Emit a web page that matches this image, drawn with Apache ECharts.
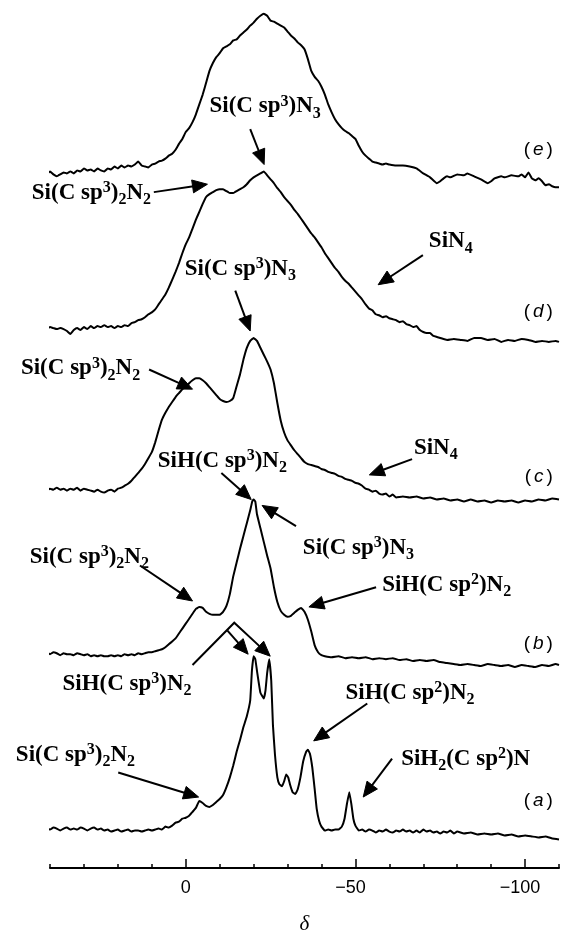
<!DOCTYPE html>
<html>
<head>
<meta charset="utf-8">
<script src="https://cdn.jsdelivr.net/npm/echarts@6/dist/echarts.min.js"></script>
<style>
  html, body { margin: 0; padding: 0; background: #fff; }
  #chart { width: 562px; height: 940px; }
</style>
</head>
<body>
<div id="chart"></div>
<script>
// Chemical shift axis: labelled (major) ticks
const tickLabels = [0, -50, -100];

// Spectrum names, bottom to top
const traceNames = ['a', 'b', 'c', 'd', 'e'];

// Vertical offset of each spectrum's baseline (a..e)
const baseLevels = [40, 218, 384, 548, 705];

// Spectra as [δ, intensity above own baseline]
const specA = [[41,1],[40,-1],[39,1],[38,0],[37,-2],[36,0],[35,1],[34,-1],[33,0],[32,-1],[31,1],[30,0],[29,-2],[28,0],[27,1],[26,-1],[25,0],[24,-2],[23,-1],[22,-3],[21,-2],[20,-1],[19,-3],[18,-2],[17,-1],[16,-3],[15,-2],[14,-2],[13,-3],[12,-2],[11,-1],[10,-2],[9,-1],[8,0],[7,-1],[6,2],[5,1],[4,3],[3,6],[2,7],[1,10],[0,11],[-1,13],[-2,17],[-3,21],[-4,28],[-5,26],[-6,23],[-7,22],[-8,24],[-9,27],[-10,30],[-11,34],[-12,42],[-13,52],[-14,64],[-15,78],[-16,90],[-17,103],[-18,114],[-19,130],[-19.5,160],[-20,175],[-20.5,172],[-21,160],[-22,138],[-23,132],[-23.5,140],[-24,158],[-24.6,172],[-25.2,150],[-25.7,105],[-26.3,75],[-27,52],[-27.6,45],[-28.4,43],[-29,48],[-29.6,55],[-30.2,52],[-30.8,44],[-31.5,37],[-32.3,35],[-33,40],[-33.8,52],[-34.6,68],[-35.5,78],[-36,80],[-36.6,76],[-37.3,62],[-38,40],[-38.6,20],[-39.3,8],[-40,2],[-41,-2],[-42,-1],[-43,-2],[-44,-1],[-45,-1],[-46,2],[-46.8,10],[-47.5,25],[-48.2,37],[-48.8,25],[-49.4,10],[-50,3],[-51,-2],[-52,-1],[-53,-3],[-54,-1],[-55,-2],[-56,-4],[-57,-2],[-58,-3],[-59,-1],[-60,-3],[-61,-4],[-62,-2],[-63,-3],[-64,-1],[-65,-3],[-66,-2],[-67,-4],[-68,-2],[-69,-4],[-70,-1],[-71,-3],[-72,-2],[-73,-4],[-74,-3],[-75,-5],[-76,-3],[-77,-4],[-78,-2],[-79,-5],[-80,-3],[-82,-5],[-84,-4],[-86,-6],[-88,-5],[-90,-6],[-92,-5],[-94,-7],[-96,-6],[-98,-8],[-100,-7],[-102,-8],[-104,-9],[-106,-8],[-108,-10],[-110,-11]];

const specB = [[41,1],[40,-1],[39,1],[38,0],[37,-2],[36,0],[35,-1],[34,-1],[33,-2],[32,0],[31,-1],[30,-2],[29,-1],[28,-3],[27,-2],[26,-3],[25,-2],[24,-3],[23,-3],[22,-2],[21,-3],[20,-2],[19,-3],[18,-1],[17,-2],[16,-1],[15,-2],[14,0],[13,-1],[12,0],[11,1],[10,1],[9,2],[8,3],[7,4],[6,6],[5,9],[4,12],[3,15],[2,20],[1,25],[0,30],[-1,35],[-2,40],[-3,45],[-4,47],[-5,46],[-6,42],[-7,40],[-8,39],[-9,39],[-10,39],[-11,42],[-12,48],[-13,60],[-14,78],[-15,92],[-16,106],[-17,119],[-18,132],[-19,145],[-19.6,154],[-20,156],[-20.5,154],[-21,141],[-22,127],[-23,113],[-24,99],[-25,86],[-26,67],[-27,52],[-28,43],[-29,39],[-30,37],[-31,38],[-32,41],[-33,44],[-34,46],[-35,42],[-36,34],[-37,22],[-38,8],[-39,1],[-40,-2],[-41,-3],[-43,-4],[-45,-3],[-47,-5],[-49,-4],[-51,-5],[-53,-4],[-55,-6],[-57,-5],[-59,-6],[-61,-5],[-63,-7],[-65,-6],[-67,-8],[-69,-7],[-71,-8],[-73,-7],[-75,-9],[-77,-10],[-79,-11],[-81,-12],[-83,-11],[-85,-12],[-87,-13],[-89,-11],[-91,-12],[-93,-13],[-95,-12],[-97,-14],[-99,-12],[-101,-13],[-103,-14],[-105,-12],[-107,-13],[-109,-11],[-110,-12]];

const specC = [[41,-1],[40,1],[39,0],[38,2],[37,0],[36,1],[35,-1],[34,1],[33,0],[32,2],[31,-1],[30,1],[29,0],[28,-1],[27,-2],[26,0],[25,-2],[24,-3],[23,-1],[22,0],[21,-2],[20,1],[19,2],[18,4],[17,6],[16,9],[15,13],[14,17],[13,21],[12,26],[11,32],[10,38],[9,48],[8,60],[7,71],[6,78],[5,84],[4,89],[3,94],[2,98],[1,102],[0,104],[-1,108],[-2,111],[-3,113],[-4,113],[-5,111],[-6,108],[-7,104],[-8,100],[-9,96],[-10,92],[-11,90],[-12,89],[-13,90],[-14,93],[-15,105],[-16,117],[-17,132],[-18,144],[-19,151],[-20,154],[-21,151],[-22,144],[-23,137],[-24,130],[-25,122],[-26,108],[-27,88],[-28,70],[-29,58],[-30,50],[-31,45],[-32,40],[-33,36],[-34,32],[-35,28],[-36,26],[-37,25],[-38,24],[-39,23],[-40,21],[-41,20],[-42,18],[-43,17],[-44,16],[-45,14],[-46,13],[-47,11],[-48,10],[-49,9],[-50,7],[-51,6],[-52,4],[-53,1],[-54,0],[-55,-2],[-56,-1],[-57,-4],[-58,-5],[-59,-4],[-60,-7],[-61,-5],[-62,-8],[-64,-7],[-66,-8],[-68,-7],[-70,-9],[-72,-8],[-74,-10],[-76,-9],[-78,-11],[-80,-10],[-82,-12],[-84,-10],[-86,-12],[-88,-11],[-90,-13],[-92,-11],[-94,-12],[-96,-11],[-98,-13],[-100,-11],[-102,-12],[-104,-10],[-106,-11],[-108,-9],[-110,-10]];

const specD = [[41,-1],[40,1],[39,0],[38,-1],[37,0],[36,-1],[35,-3],[34,-6],[33,-2],[32,0],[31,-2],[30,1],[29,-1],[28,2],[27,0],[26,2],[25,1],[24,3],[23,1],[22,2],[21,0],[20,2],[19,1],[18,3],[17,2],[16,5],[15,6],[14,8],[13,9],[12,11],[11,14],[10,16],[9,19],[8,24],[7,29],[6,34],[5,41],[4,49],[3,57],[2,66],[1,76],[0,85],[-1,92],[-2,101],[-3,110],[-4,118],[-5,126],[-6,133],[-7,136],[-8,138],[-9,140],[-10,141],[-11,141],[-12,139],[-13,137],[-14,137],[-15,139],[-16,141],[-17,143],[-18,146],[-19,150],[-20,153],[-21,155],[-22,157],[-23,159],[-24,155],[-25,151],[-26,147],[-27,142],[-28,138],[-29,133],[-30,129],[-31,125],[-32,120],[-33,116],[-34,111],[-35,106],[-36,101],[-37,96],[-38,92],[-39,87],[-40,82],[-41,76],[-42,71],[-43,66],[-44,61],[-45,57],[-46,52],[-47,48],[-48,45],[-49,41],[-50,37],[-51,33],[-52,29],[-53,24],[-54,20],[-55,18],[-56,14],[-57,13],[-58,11],[-59,12],[-60,10],[-61,9],[-62,8],[-63,6],[-64,7],[-65,4],[-66,3],[-67,1],[-68,2],[-69,-2],[-70,-4],[-71,-5],[-72,-5],[-73,-8],[-74,-9],[-75,-10],[-77,-12],[-79,-11],[-81,-12],[-83,-13],[-85,-10],[-87,-10],[-89,-12],[-91,-11],[-93,-14],[-95,-12],[-97,-13],[-99,-11],[-101,-12],[-103,-14],[-105,-13],[-107,-14],[-109,-13],[-110,-14]];

const specE = [[41,-1],[40,2],[39,-1],[38,-3],[37,-1],[36,1],[35,0],[34,2],[33,0],[32,3],[31,2],[30,5],[29,3],[28,4],[27,2],[26,5],[25,3],[24,2],[23,5],[22,4],[21,7],[20,5],[19,8],[18,6],[17,8],[16,7],[15,9],[14,12],[13,8],[12,7],[11,6],[10,9],[9,10],[8,12],[7,13],[6,15],[5,18],[4,20],[3,24],[2,30],[1,35],[0,42],[-1,46],[-2,52],[-3,60],[-4,70],[-5,80],[-6,92],[-7,104],[-8,112],[-9,118],[-10,122],[-11,127],[-12,129],[-13,131],[-14,135],[-15,136],[-16,140],[-17,143],[-18,146],[-19,150],[-20,153],[-21,157],[-22,160],[-23,162],[-24,160],[-25,155],[-26,154],[-27,152],[-28,150],[-29,148],[-30,144],[-31,140],[-32,137],[-33,133],[-34,130],[-35,126],[-36,116],[-37,104],[-38,98],[-39,94],[-40,88],[-41,80],[-42,70],[-43,62],[-44,55],[-45,50],[-46,46],[-47,43],[-48,41],[-49,38],[-50,35],[-51,28],[-52,22],[-53,18],[-54,15],[-55,12],[-56,11],[-57,10],[-58,9],[-59,10],[-60,9],[-62,8],[-64,8],[-66,7],[-68,5],[-70,0],[-72,-4],[-74,-10],[-75,-8],[-76,-5],[-77,-3],[-78,-4],[-80,-1],[-82,-2],[-83,0],[-85,-3],[-87,-6],[-89,-10],[-90,-8],[-91,-5],[-93,-3],[-94,-4],[-96,-2],[-98,-3],[-99,-1],[-100,-4],[-101,1],[-102,-5],[-103,-7],[-104,-5],[-105,-8],[-106,-12],[-107,-11],[-108,-13],[-109,-14],[-110,-14]];

// Peak assignments: label text (rich), label anchor and arrow(s), all in [δ, height]
const peakNotes = [
  { text: '{m|Si(C sp}{p|3}{m|)N}{s|3}',        at: [-23.4, 773], arrows: [[[-19.0, 750], [-23.1, 714]]] },
  { text: '{m|Si(C sp}{p|3}{m|)}{s|2}{m|N}{s|2}', at: [27.8, 685],  arrows: [[[9.4, 686], [-6.4, 694]]] },
  { text: '{m|SiN}{s|4}',                       at: [-78.1, 636], arrows: [[[-69.9, 622], [-56.7, 592]]] },
  { text: '{m|Si(C sp}{p|3}{m|)N}{s|3}',        at: [-16.1, 608], arrows: [[[-14.6, 586], [-19.0, 545]]] },
  { text: '{m|Si(C sp}{p|3}{m|)}{s|2}{m|N}{s|2}', at: [31.0, 507],  arrows: [[[10.8, 506], [-2.0, 486]]] },
  { text: '{m|SiN}{s|4}',                       at: [-73.7, 426], arrows: [[[-66.7, 415], [-54.1, 399]]] },
  { text: '{m|SiH(C sp}{p|3}{m|)N}{s|2}',       at: [-10.8, 413], arrows: [[[-10.5, 401], [-19.3, 374]]] },
  { text: '{m|Si(C sp}{p|3}{m|)N}{s|3}',        at: [-50.9, 325], arrows: [[[-32.5, 347], [-22.5, 368]]] },
  { text: '{m|Si(C sp}{p|3}{m|)}{s|2}{m|N}{s|2}', at: [28.4, 316],  arrows: [[[13.5, 307], [-2.0, 271]]] },
  { text: '{m|SiH(C sp}{p|2}{m|)N}{s|2}',       at: [-76.9, 287], arrows: [[[-56.1, 285], [-36.3, 265]]] },
  { text: '{m|SiH(C sp}{p|3}{m|)N}{s|2}',       at: [17.3, 187],  arrows: [[[-2.0, 206], [-14.3, 249], [-24.9, 215]], [[-12.3, 241], [-18.4, 217]]] },
  { text: '{m|SiH(C sp}{p|2}{m|)N}{s|2}',       at: [-66.1, 178], arrows: [[[-53.5, 167], [-37.7, 129]]] },
  { text: '{m|Si(C sp}{p|3}{m|)}{s|2}{m|N}{s|2}', at: [32.5, 115],  arrows: [[[19.9, 97], [-3.8, 72]]] },
  { text: '{m|SiH}{s|2}{m|(C sp}{p|2}{m|)N}',   at: [-82.5, 111], arrows: [[[-60.8, 111], [-52.3, 72]]] }
];

// Spectrum tag positions [δ, height], a..e
const tagAnchors = [[-108.2, 68], [-108.2, 228], [-108.2, 397], [-108.2, 565], [-108.2, 729]];

const chart = echarts.init(document.getElementById('chart'), null, { renderer: 'canvas' });

const traces = [specA, specB, specC, specD, specE];
const series = traces.map((spec, i) => ({
  name: traceNames[i],
  type: 'line',
  xAxisIndex: 0,
  yAxisIndex: 0,
  symbol: 'none',
  silent: true,
  smooth: 0.1,
  data: spec.map(p => [p[0], p[1] + baseLevels[i]]),
  lineStyle: { color: '#000', width: 2, join: 'round' }
}));

// Negative labels keep their digits centred on the tick, the minus hangs to the left
const fmtDelta = v => (v < 0 ? '{n|\u2212' + Math.abs(v) + '}' : '{z|' + v + '}');

chart.setOption({
  animation: false,
  backgroundColor: '#fff',
  grid: { left: 50, right: -2, top: 0, bottom: 59, containLabel: false },
  xAxis: [
    {
      type: 'value', inverse: true, min: -110, max: 40, interval: 10,
      axisLine: { lineStyle: { color: '#000', width: 2 } },
      axisTick: { inside: true, length: 4, lineStyle: { color: '#000', width: 1.5 } },
      axisLabel: {
        margin: 11, color: '#000', fontFamily: 'Liberation Sans', fontSize: 18,
        formatter: v => (tickLabels.indexOf(Math.round(v)) >= 0 ? fmtDelta(Math.round(v)) : ''),
        rich: {
          n: { fontFamily: 'Liberation Sans', fontSize: 18, color: '#000', padding: [0, 10, 0, 0] },
          z: { fontFamily: 'Liberation Sans', fontSize: 18, color: '#000' }
        }
      },
      splitLine: { show: false },
      name: 'δ', nameLocation: 'middle', nameGap: 46,
      nameTextStyle: { fontFamily: 'Liberation Serif', fontStyle: 'italic', fontSize: 21, color: '#000' }
    },
    {
      type: 'value', inverse: true, min: -110, max: 40, position: 'bottom',
      axisLine: { show: false },
      axisTick: { inside: true, length: 9, customValues: tickLabels, lineStyle: { color: '#000', width: 1.5 } },
      axisLabel: { show: false },
      splitLine: { show: false }
    }
  ],
  yAxis: { type: 'value', min: 0, max: 881, show: false },
  series
});

const toPx = p => chart.convertToPixel({ xAxisIndex: 0, yAxisIndex: 0 }, p);

const noteRich = {
  m: { fontFamily: 'Liberation Serif', fontWeight: 'bold', fontSize: 23, lineHeight: 30, fill: '#000' },
  s: { fontFamily: 'Liberation Serif', fontWeight: 'bold', fontSize: 16, lineHeight: 18, verticalAlign: 'bottom', fill: '#000' },
  p: { fontFamily: 'Liberation Serif', fontWeight: 'bold', fontSize: 16, lineHeight: 18, padding: [2, 0, 0, 0], verticalAlign: 'top', fill: '#000' }
};

const graphics = [];

peakNotes.forEach(note => {
  const c = toPx(note.at);
  graphics.push({
    type: 'text', x: c[0], y: c[1], silent: true,
    style: { text: note.text, rich: noteRich, align: 'center', verticalAlign: 'middle', fill: '#000' }
  });
  note.arrows.forEach(path => {
    const pts = path.map(toPx);
    const n = pts.length;
    const tip = pts[n - 1], prev = pts[n - 2];
    const dx = tip[0] - prev[0], dy = tip[1] - prev[1];
    const len = Math.sqrt(dx * dx + dy * dy);
    const ux = dx / len, uy = dy / len;
    const headL = 15, headW = 6.5;
    const bx = tip[0] - ux * headL, by = tip[1] - uy * headL;
    const shaft = pts.slice(0, n - 1).concat([[bx + ux, by + uy]]);
    graphics.push({
      type: 'polyline', silent: true,
      shape: { points: shaft },
      style: { stroke: '#000', lineWidth: 2, fill: null, lineJoin: 'miter' }
    });
    graphics.push({
      type: 'polygon', silent: true,
      shape: { points: [tip, [bx - uy * headW, by + ux * headW], [bx + uy * headW, by - ux * headW]] },
      style: { fill: '#000', stroke: '#000', lineWidth: 1 }
    });
  });
});

const tagRich = {
  r: { fontFamily: 'Liberation Sans', fontSize: 19, fill: '#000' },
  i: { fontFamily: 'Liberation Sans', fontStyle: 'italic', fontSize: 19, padding: [0, 3, 0, 3], fill: '#000' }
};
tagAnchors.forEach((a, i) => {
  const c = toPx(a);
  graphics.push({
    type: 'text', x: c[0], y: c[1], silent: true,
    style: { text: '{r|(}{i|' + traceNames[i] + '}{r|)}', rich: tagRich, align: 'right', verticalAlign: 'middle' }
  });
});

chart.setOption({ graphic: graphics });
</script>
</body>
</html>
